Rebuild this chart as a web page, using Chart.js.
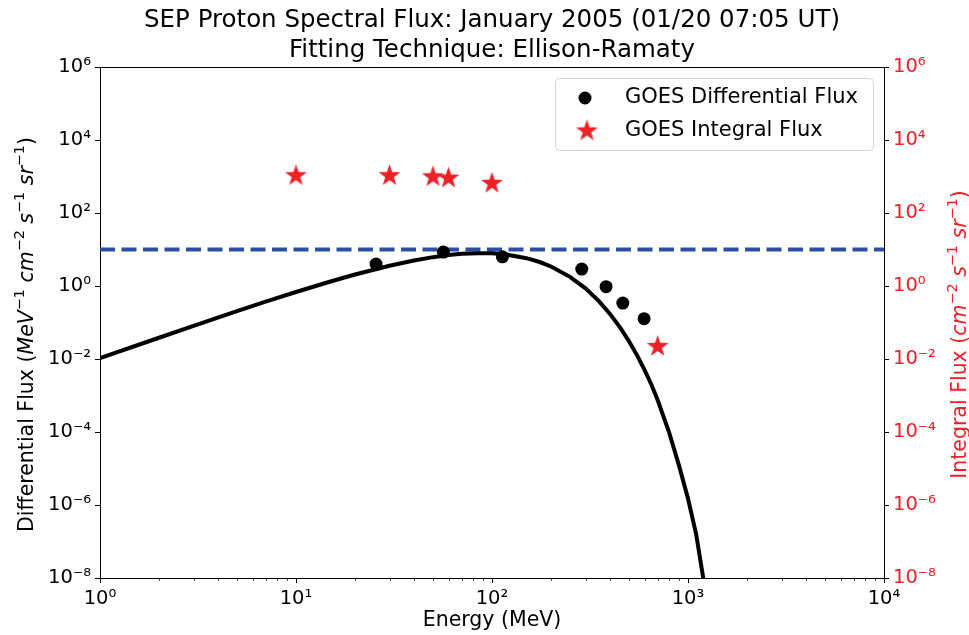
<!DOCTYPE html>
<html><head><meta charset="utf-8">
<script src="https://cdn.jsdelivr.net/npm/chart.js@4"></script>
<style>html,body{margin:0;padding:0;background:#fff;}</style>
</head><body>
<canvas id="c" width="969" height="635"></canvas>
<script>
// ---------- data ----------
const diffEnergy = [25.6, 56.5, 113, 287, 382, 465, 597];
const diffFlux   = [4.0, 8.5, 6.3, 2.9, 0.96, 0.34, 0.127];
const intEnergy  = [10, 30, 50, 60, 100, 700];
const intFlux    = [1050, 1050, 980, 900, 650, 0.022];
const fitEnergy  = [1, 2, 3, 5, 7, 10, 15, 20, 30, 40, 50, 60, 70, 85, 100, 120, 150, 175, 200, 250, 300, 350, 400, 450, 500, 550, 600, 650, 700, 800, 900, 1000, 1100, 1200, 1300];
const fitFlux    = [0.0105, 0.0382, 0.0808, 0.205, 0.371, 0.686, 1.33, 2.06, 3.59, 5.0, 6.17, 7.03, 7.6, 7.95, 7.86, 7.22, 5.79, 4.54, 3.42, 1.78, 0.86, 0.39, 0.172, 0.0737, 0.0308, 0.0126, 0.00505, 0.00201, 0.00075, 0.0001, 0.000012, 0.0000015, 0.00000016, 0.000000009, 0.0000000005];
const thresholdEnergy = [1, 10000];
const thresholdFlux   = [10, 10];
const xTickValues = [1, 10, 100, 1000, 10000];
const yTickValues = [1e-8, 1e-6, 1e-4, 1e-2, 1e0, 1e2, 1e4, 1e6];
const titleLines = ['SEP Proton Spectral Flux: January 2005 (01/20 07:05 UT)', 'Fitting Technique: Ellison-Ramaty'];
const legendLabels = ['GOES Differential Flux', 'GOES Integral Flux'];

const FONT = '"DejaVu Sans", sans-serif';
const RED = '#ec2128';
const BLUE = '#2c4fa5';

const SUP = {'-':'\u207B','0':'\u2070','1':'\u00B9','2':'\u00B2','3':'\u00B3','4':'\u2074','5':'\u2075','6':'\u2076','7':'\u2077','8':'\u2078','9':'\u2079'};
function powLabel(v){
  const e = Math.round(Math.log10(v));
  return '10' + String(e).split('').map(c=>SUP[c]).join('');
}
function makeStar(R, color){
  const c = document.createElement('canvas');
  const s = Math.ceil(2*R+2);
  c.width = s; c.height = s;
  const g = c.getContext('2d');
  g.fillStyle = color;
  g.beginPath();
  for (let i=0;i<10;i++){
    const r = i%2===0 ? R : R*0.39;
    const a = -Math.PI/2 + i*Math.PI/5;
    const px = s/2 + r*Math.cos(a), py = s/2 + r*Math.sin(a);
    if(i===0) g.moveTo(px,py); else g.lineTo(px,py);
  }
  g.closePath(); g.fill();
  return c;
}
const starImg = makeStar(11.5, RED);

function pts(xs, ys){ return xs.map((x,i)=>({x:x, y:ys[i]})); }

// rich text (mathtext-like) drawing
function segFont(seg, size){
  const sz = seg.s ? size*0.7 : size;
  return (seg.i ? 'italic ' : '') + sz + 'px ' + FONT;
}
function richWidth(ctx, segs, size){
  let w = 0;
  segs.forEach(sg=>{ ctx.font = segFont(sg,size); w += ctx.measureText(sg.t).width; });
  return w;
}
function drawRich(ctx, segs, size, x0, y0){
  let x = x0;
  segs.forEach(sg=>{
    ctx.font = segFont(sg,size);
    ctx.fillText(sg.t, x, sg.s ? y0 - size*0.42 : y0);
    x += ctx.measureText(sg.t).width;
  });
}
const leftLabel = [{t:'Differential Flux ('},{t:'MeV',i:1},{t:'\u22121',s:1},{t:' cm',i:1},{t:'\u22122',s:1},{t:' s',i:1},{t:'\u22121',s:1},{t:' sr',i:1},{t:'\u22121',s:1},{t:')'}];
const rightLabel = [{t:'Integral Flux ('},{t:'cm',i:1},{t:'\u22122',s:1},{t:' s',i:1},{t:'\u22121',s:1},{t:' sr',i:1},{t:'\u22121',s:1},{t:')'}];

const decor = {
  id:'decor',
  afterDraw(chart){
    const ctx = chart.ctx, a = chart.chartArea;
    const xs = chart.scales.x;
    ctx.save();
    // top spine
    ctx.strokeStyle = '#000'; ctx.lineWidth = 1;
    ctx.beginPath(); ctx.moveTo(a.left, a.top+0.5); ctx.lineTo(a.right, a.top+0.5); ctx.stroke();
    // minor x ticks
    ctx.strokeStyle = '#222'; ctx.lineWidth = 0.8;
    for (let d=1; d<10000; d*=10){
      for (let m=2; m<10; m++){
        const px = Math.round(xs.getPixelForValue(m*d))+0.5;
        ctx.beginPath(); ctx.moveTo(px, a.bottom); ctx.lineTo(px, a.bottom+3); ctx.stroke();
      }
    }
    // title
    const cx = (a.left + a.right)/2;
    ctx.fillStyle = '#000';
    ctx.textAlign = 'center'; ctx.textBaseline = 'middle';
    ctx.font = '24.5px ' + FONT;
    ctx.fillText(titleLines[0], cx, 21);
    ctx.fillText(titleLines[1], cx, 51);
    // x label
    ctx.font = '20.5px ' + FONT;
    ctx.fillText('Energy (MeV)', cx, 621);
    // y labels
    ctx.textAlign = 'left'; ctx.textBaseline = 'alphabetic';
    const cy = (a.top + a.bottom)/2 + 12;
    let w = richWidth(ctx, leftLabel, 20.5);
    ctx.save(); ctx.translate(33, cy); ctx.rotate(-Math.PI/2);
    ctx.fillStyle = '#000'; drawRich(ctx, leftLabel, 20.5, -w/2, 0); ctx.restore();
    w = richWidth(ctx, rightLabel, 20.5);
    ctx.save(); ctx.translate(966, cy); ctx.rotate(-Math.PI/2);
    ctx.fillStyle = RED; drawRich(ctx, rightLabel, 20.5, -w/2, 0); ctx.restore();
    // legend
    const lx = 555, ly = 78, lw = 318, lh = 72;
    ctx.fillStyle = 'rgba(255,255,255,0.8)';
    ctx.strokeStyle = '#d4d4d4'; ctx.lineWidth = 1;
    ctx.beginPath(); ctx.roundRect(lx+0.5, ly+0.5, lw, lh, 4); ctx.fill(); ctx.stroke();
    ctx.fillStyle = '#000';
    ctx.beginPath(); ctx.arc(585, 98, 6.5, 0, Math.PI*2); ctx.fill();
    ctx.drawImage(starImg, 587 - starImg.width/2, 131 - starImg.height/2);
    ctx.font = '21px ' + FONT; ctx.textBaseline = 'middle'; ctx.textAlign = 'left';
    ctx.fillText(legendLabels[0], 625, 98);
    ctx.fillText(legendLabels[1], 625, 131);
    ctx.restore();
  }
};

new Chart(document.getElementById('c'), {
  type:'scatter',
  data:{ datasets:[
    {label:legendLabels[0], data:pts(diffEnergy, diffFlux), yAxisID:'y', pointStyle:'circle', pointRadius:6.5, backgroundColor:'#000', borderColor:'#000', borderWidth:0, showLine:false},
    {label:legendLabels[1], data:pts(intEnergy, intFlux), yAxisID:'y2', pointStyle:starImg, pointRadius:11, showLine:false},
    {label:'fit', data:pts(fitEnergy, fitFlux), yAxisID:'y', showLine:true, pointRadius:0, borderColor:'#000', borderWidth:4, tension:0},
    {label:'threshold', data:pts(thresholdEnergy, thresholdFlux), yAxisID:'y', showLine:true, pointRadius:0, borderColor:BLUE, borderWidth:4, borderDash:[15,6.5]}
  ]},
  options:{
    responsive:false, animation:false, devicePixelRatio:1,
    layout:{padding:{top:67, left:0, right:0, bottom:0}},
    plugins:{legend:{display:false}, tooltip:{enabled:false}, title:{display:false}},
    scales:{
      x:{type:'logarithmic', position:'bottom', min:1, max:10000,
         afterBuildTicks:s=>{ s.ticks = xTickValues.map(v=>({value:v})); },
         afterFit:s=>{ s.height = 57; },
         grid:{display:true, drawOnChartArea:false, tickLength:5, tickColor:'#000', tickWidth:1},
         border:{display:true, color:'#000', width:1},
         ticks:{font:{family:FONT, size:19.5}, color:'#000', padding:4, maxRotation:0, autoSkip:false, callback:v=>powLabel(v)}},
      y:{type:'logarithmic', position:'left', min:1e-8, max:1e6,
         afterBuildTicks:s=>{ s.ticks = yTickValues.map(v=>({value:v})); },
         afterFit:s=>{ s.width = 100; },
         grid:{display:true, drawOnChartArea:false, tickLength:5, tickColor:'#000', tickWidth:1},
         border:{display:true, color:'#000', width:1},
         ticks:{font:{family:FONT, size:19.5}, color:'#000', padding:4, autoSkip:false, callback:v=>powLabel(v)}},
      y2:{type:'logarithmic', position:'right', min:1e-8, max:1e6,
         afterBuildTicks:s=>{ s.ticks = yTickValues.map(v=>({value:v})); },
         afterFit:s=>{ s.width = 85; },
         grid:{display:true, drawOnChartArea:false, tickLength:5, tickColor:'#000', tickWidth:1},
         border:{display:true, color:'#000', width:1},
         ticks:{font:{family:FONT, size:19.5}, color:RED, padding:4, autoSkip:false, callback:v=>powLabel(v)}}
    }
  },
  plugins:[decor]
});
</script>
</body></html>
